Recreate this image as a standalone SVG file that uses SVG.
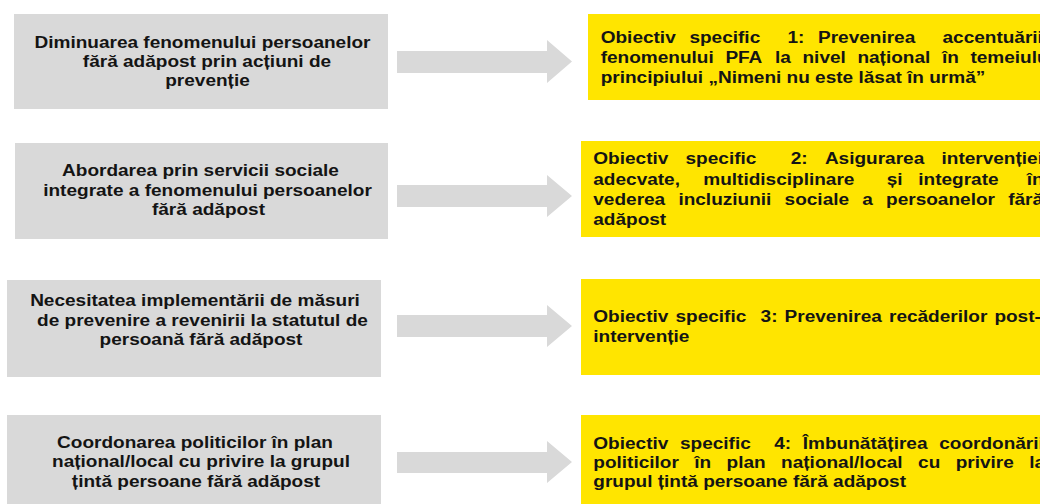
<svg xmlns="http://www.w3.org/2000/svg" width="1040" height="504" viewBox="0 0 1040 504">
<style>
.box{fill:#d9d9d9}
.obj{fill:#ffe500}
.arrow{fill:#d9d9d9}
text{font-family:"Liberation Sans",Arial,sans-serif;font-weight:bold;font-size:16.4px;fill:#141414}
.c{text-anchor:middle}
</style>
<rect width="1040" height="504" fill="#ffffff"/>
<g id="connectors">
<polygon class="arrow" points="397,51 547,51 547,40 572,61.5 547,83 547,73 397,73"/>
<polygon class="arrow" points="397,185 547,185 547,175 572,196 547,217 547,207 397,207"/>
<polygon class="arrow" points="397,315 547,315 547,305 572,326 547,347 547,337 397,337"/>
<polygon class="arrow" points="397,452 547,452 547,441 572,462 547,483 547,473 397,473"/>
</g>
<g id="cause1">
<rect class="box" x="14" y="14" width="374" height="95"/>
<g transform="scale(1.16,1)">
<text class="c" x="174.57" y="48.5">Diminuarea fenomenului persoanelor</text>
<text class="c" x="178.45" y="67.5">fără adăpost prin acțiuni de</text>
<text class="c" x="178.88" y="86.5">prevenție</text>
</g>
</g>
<g id="cause2">
<rect class="box" x="15" y="143" width="373" height="96"/>
<g transform="scale(1.16,1)">
<text class="c" x="172.84" y="176.5">Abordarea prin servicii sociale</text>
<text class="c" x="178.88" y="196">integrate a fenomenului persoanelor</text>
<text class="c" x="179.74" y="215.5">fără adăpost</text>
</g>
</g>
<g id="cause3">
<rect class="box" x="7" y="280" width="374" height="97"/>
<g transform="scale(1.16,1)">
<text class="c" x="168.10" y="306.5">Necesitatea implementării de măsuri</text>
<text class="c" x="174.57" y="326">de prevenire a revenirii la statutul de</text>
<text class="c" x="173.28" y="345.5">persoană fără adăpost</text>
</g>
</g>
<g id="cause4">
<rect class="box" x="7" y="415" width="374" height="89"/>
<g transform="scale(1.16,1)">
<text class="c" x="168.10" y="448">Coordonarea politicilor în plan</text>
<text class="c" x="173.28" y="467.5">național/local cu privire la grupul</text>
<text class="c" x="168.97" y="487">țintă persoane fără adăpost</text>
</g>
</g>
<g id="objective1">
<rect class="obj" x="588" y="14" width="452" height="86"/>
<g transform="scale(1.16,1)">
<text y="42.8"><tspan x="517.84">Obiectiv</tspan><tspan x="594.31">specific</tspan><tspan x="678.88">1:</tspan><tspan x="705.17">Prevenirea</tspan><tspan x="812.50">accentuării</tspan></text>
<text y="63.2"><tspan x="517.84">fenomenului</tspan><tspan x="625.34">PFA</tspan><tspan x="668.10">la</tspan><tspan x="691.81">nivel</tspan><tspan x="739.14">național</tspan><tspan x="811.98">în</tspan><tspan x="836.55">temeiului</tspan></text>
<text x="517.84" y="83.4">principiului „Nimeni nu este lăsat în urmă”</text>
</g>
</g>
<g id="objective2">
<rect class="obj" x="581" y="141" width="459" height="96"/>
<g transform="scale(1.16,1)">
<text y="164.5"><tspan x="511.47">Obiectiv</tspan><tspan x="590.99">specific</tspan><tspan x="681.72">2:</tspan><tspan x="711.12">Asigurarea</tspan><tspan x="811.64">intervenției</tspan></text>
<text y="185"><tspan x="511.47">adecvate,</tspan><tspan x="606.29">multidisciplinare</tspan><tspan x="764.40">și</tspan><tspan x="791.64">integrate</tspan><tspan x="885.09">în</tspan></text>
<text y="205.3"><tspan x="511.47">vederea</tspan><tspan x="584.83">incluziunii</tspan><tspan x="676.38">sociale</tspan><tspan x="743.36">a</tspan><tspan x="763.88">persoanelor</tspan><tspan x="869.14">fără</tspan></text>
<text x="511.47" y="225.5">adăpost</text>
</g>
</g>
<g id="objective3">
<rect class="obj" x="581" y="279" width="459" height="96"/>
<g transform="scale(1.16,1)">
<text y="322.5"><tspan x="511.47">Obiectiv</tspan><tspan x="582.33">specific</tspan><tspan x="655.69">3:</tspan><tspan x="676.38">Prevenirea</tspan><tspan x="766.38">recăderilor</tspan><tspan x="857.24">post-</tspan></text>
<text x="511.47" y="342">intervenție</text>
</g>
</g>
<g id="objective4">
<rect class="obj" x="581" y="415" width="459" height="89"/>
<g transform="scale(1.16,1)">
<text y="449"><tspan x="511.47">Obiectiv</tspan><tspan x="586.21">specific</tspan><tspan x="667.41">4:</tspan><tspan x="692.07">Îmbunătățirea</tspan><tspan x="809.66">coordonării</tspan></text>
<text y="468"><tspan x="511.47">politicilor</tspan><tspan x="598.53">în</tspan><tspan x="626.38">plan</tspan><tspan x="673.36">național/local</tspan><tspan x="791.47">cu</tspan><tspan x="823.88">privire</tspan><tspan x="887.24">la</tspan></text>
<text x="511.47" y="487">grupul țintă persoane fără adăpost</text>
</g>
</g>
</svg>
